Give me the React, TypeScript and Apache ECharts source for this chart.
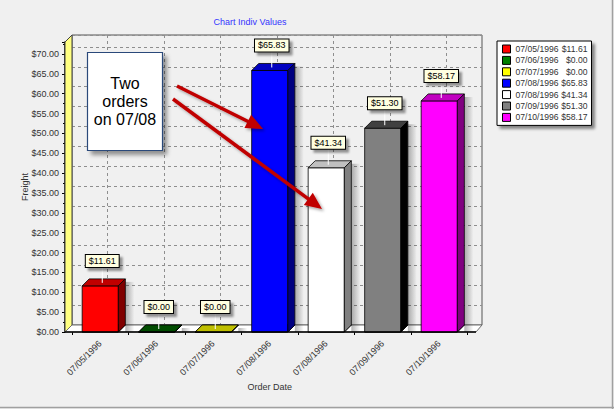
import React, { useEffect, useRef } from 'react';
import * as echarts from 'echarts';

const categories = ['07/05/1996', '07/06/1996', '07/07/1996', '07/08/1996', '07/08/1996', '07/09/1996', '07/10/1996'];
const freight = [11.61, 0, 0, 65.83, 41.34, 51.3, 58.17];
const frontColors = ['#ff0000', '#008000', '#ffff00', '#0000ff', '#ffffff', '#808080', '#ff00ff'];
const topColors = ['#c00000', '#004c00', '#bfbf00', '#0000c0', '#c0c0c0', '#404040', '#c000c0'];
const sideColors = ['#800000', '#003000', '#808000', '#000080', '#808080', '#000000', '#800080'];
const yMax = 73;
const yInterval = 5;
const titleText = 'Chart Indiv Values';
const noteText = 'Two\norders\non 07/08';

const FONT = '"Liberation Sans", Arial, sans-serif';
const D = 7;

const money = (v: number) => '$' + v.toFixed(2);

function arrow(x1: number, y1: number, x2: number, y2: number) {
  const a = Math.atan2(y2 - y1, x2 - x1);
  const L = 17, W = 7.5;
  const c = Math.cos(a), s = Math.sin(a);
  const bx = x2 - L * c, by = y2 - L * s;
  const shadow = { shadowColor: 'rgba(0,0,0,0.35)', shadowBlur: 3, shadowOffsetX: 2, shadowOffsetY: 2 };
  return [
    { type: 'line', z: 120, shape: { x1, y1, x2: bx + 2 * c, y2: by + 2 * s }, style: { stroke: '#c00000', lineWidth: 3.5, ...shadow } },
    { type: 'polygon', z: 121, shape: { points: [[x2, y2], [bx + W * s, by - W * c], [bx - W * s, by + W * c]] }, style: { fill: '#c00000', ...shadow } },
  ];
}

export default function App() {
  const ref = useRef<HTMLDivElement>(null);
  useEffect(() => {
    const chart = echarts.init(ref.current!, null, { renderer: 'svg' });
    const legendNames = categories.map((c, i) => `${c} ${money(freight[i])}`);

    const series = freight.map((v, i) => ({
      type: 'custom',
      name: legendNames[i],
      coordinateSystem: 'cartesian2d',
      xAxisIndex: 0,
      yAxisIndex: 0,
      itemStyle: { color: frontColors[i], borderColor: '#000', borderWidth: 1 },
      data: [[i, v]],
      renderItem: (params: any, api: any) => {
        const idx = api.value(0);
        const val = api.value(1);
        const p = api.coord([idx, val]);
        const b = api.coord([idx, 0]);
        const w = api.size([1, 0])[0] * 0.64;
        const x0 = p[0] - w / 2, x1 = p[0] + w / 2, yT = p[1], yB = b[1];
        const s = params.seriesIndex;
        const stroke = { stroke: '#000', lineWidth: 0.8 };
        const children: any[] = [
          {
            type: 'rect',
            shape: { x: x1 + D, y: yT - D + 3, width: 9, height: yB - yT + D - 3 },
            style: {
              fill: new echarts.graphic.LinearGradient(0, 0, 1, 0, [
                { offset: 0, color: 'rgba(0,0,0,0.30)' },
                { offset: 1, color: 'rgba(0,0,0,0)' },
              ]),
            },
          },
          {
            type: 'polygon',
            shape: { points: [[x0, yB], [x1, yB], [x1 + D, yB - D], [x0 + D, yB - D]] },
            style: { fill: topColors[s], ...stroke },
          },
          {
            type: 'rect',
            shape: { x: x0, y: yT, width: w, height: yB - yT },
            style: { fill: frontColors[s], ...stroke },
          },
          {
            type: 'polygon',
            shape: { points: [[x0, yT], [x1, yT], [x1 + D, yT - D], [x0 + D, yT - D]] },
            style: { fill: topColors[s], ...stroke },
          },
          {
            type: 'polygon',
            shape: { points: [[x1, yT], [x1 + D, yT - D], [x1 + D, yB - D], [x1, yB]] },
            style: { fill: sideColors[s], ...stroke },
          },
          {
            type: 'line',
            shape: { x1: p[0] + 2, y1: yT - D - 12, x2: p[0] + 2, y2: yT - 3 },
            style: { stroke: '#ffffff', lineWidth: 1 },
          },
          {
            type: 'text',
            x: p[0] + 2,
            y: yT - D - 12,
            style: {
              text: money(val),
              align: 'center',
              verticalAlign: 'bottom',
              fontSize: 9,
              fontFamily: FONT,
              fill: '#000',
              backgroundColor: '#ffffe1',
              borderColor: '#000',
              borderWidth: 1,
              padding: [1, 3, 1, 3],
              lineHeight: 10,
              shadowColor: 'rgba(0,0,0,0.4)',
              shadowBlur: 2,
              shadowOffsetX: 3,
              shadowOffsetY: 3,
            },
          },
        ];
        return { type: 'group', children };
      },
    }));

    const dashed = { show: true, lineStyle: { color: '#8e8e8e', type: [3, 3] as any, width: 1 } };

    const option: any = {
      animation: false,
      backgroundColor: '#f0f0f0',
      textStyle: { fontFamily: FONT },
      title: {
        text: titleText,
        left: 250,
        top: 17,
        textAlign: 'center',
        padding: 0,
        textStyle: { fontSize: 9, fontWeight: 'normal', color: '#3434ff', fontFamily: FONT },
      },
      legend: {
        orient: 'vertical',
        left: 497,
        top: 41,
        padding: [3, 4, 3, 5],
        itemGap: 1.4,
        itemWidth: 8,
        itemHeight: 8,
        icon: 'rect',
        selectedMode: false,
        backgroundColor: '#ffffff',
        borderColor: '#000',
        borderWidth: 1,
        shadowColor: 'rgba(0,0,0,0.45)',
        shadowBlur: 3,
        shadowOffsetX: 3,
        shadowOffsetY: 3,
        itemStyle: { borderColor: '#000', borderWidth: 1 },
        data: legendNames,
        formatter: (n: string) => {
          const [d, v] = n.split(' ');
          return `{d|${d}}{v|${v}}`;
        },
        textStyle: {
          fontSize: 8.6,
          color: '#333',
          lineHeight: 10,
          fontFamily: FONT,
          rich: {
            d: { width: 45, fontSize: 8.6, color: '#333', fontFamily: FONT, lineHeight: 10 },
            v: { width: 27, align: 'right', fontSize: 8.6, color: '#333', fontFamily: FONT, lineHeight: 10 },
          },
        },
      },
      grid: [
        { left: 72, right: 146.5, top: 42, bottom: 77 },
        { left: 72, right: 132, top: 35, bottom: 84, show: true, borderColor: '#555', borderWidth: 1, backgroundColor: 'transparent' },
        { left: 107.25, width: 339, top: 35, bottom: 84 },
      ],
      xAxis: [
        {
          gridIndex: 0,
          type: 'category',
          data: categories,
          boundaryGap: true,
          name: 'Order Date',
          nameLocation: 'middle',
          nameGap: 50,
          nameMoveOverlap: false,
          nameTextStyle: { fontSize: 9, color: '#333', fontFamily: FONT },
          axisLine: { show: false },
          axisTick: { show: true, length: 3, lineStyle: { color: '#000' } },
          axisLabel: { rotate: 45, interval: 0, fontSize: 9, color: '#333', margin: 10, fontFamily: FONT },
          splitLine: { show: false },
        },
        { gridIndex: 1, type: 'value', show: false, min: 0, max: 1 },
        {
          gridIndex: 2,
          type: 'category',
          data: categories,
          boundaryGap: false,
          axisLine: { show: false },
          axisTick: { show: false },
          axisLabel: { show: false },
          splitLine: { ...dashed, interval: 0 },
        },
      ],
      yAxis: [
        {
          gridIndex: 0,
          type: 'value',
          min: 0,
          max: yMax,
          interval: yInterval,
          offset: 7,
          name: 'Freight',
          nameLocation: 'middle',
          nameGap: 36,
          nameMoveOverlap: false,
          nameTextStyle: { fontSize: 9, color: '#333', fontFamily: FONT },
          axisLine: { show: true, lineStyle: { color: '#000', width: 1.5 } },
          axisTick: { show: true, length: 3, lineStyle: { color: '#000' } },
          minorTick: { show: true, splitNumber: 2, length: 2, lineStyle: { color: '#000' } },
          axisLabel: {
            fontSize: 9,
            color: '#333',
            margin: 6,
            fontFamily: FONT,
            showMaxLabel: false,
            formatter: (v: number) => (v % yInterval === 0 ? money(v) : ''),
          },
          splitLine: { show: false },
        },
        {
          gridIndex: 1,
          type: 'value',
          min: 0,
          max: yMax,
          interval: yInterval,
          axisLine: { show: false },
          axisTick: { show: false },
          axisLabel: { show: false },
          splitLine: dashed,
        },
        { gridIndex: 2, type: 'value', show: false, min: 0, max: yMax },
      ],
      graphic: [
        {
          type: 'polygon',
          z: 1,
          shape: { points: [[65, 332], [65, 42], [72, 35], [72, 325]] },
          style: { fill: '#ffff80', stroke: '#404040', lineWidth: 1 },
        },
        {
          type: 'polygon',
          z: 1,
          shape: { points: [[65, 332], [476, 332], [482, 325], [72, 325]] },
          style: { fill: '#ffffff', stroke: '#707070', lineWidth: 1 },
        },
        { type: 'line', z: 3, shape: { x1: 65, y1: 332, x2: 476, y2: 332 }, style: { stroke: '#000', lineWidth: 1.5 } },
        {
          type: 'rect',
          z: 110,
          shape: { x: 87.5, y: 52.5, width: 75, height: 98 },
          style: {
            fill: '#ffffff',
            stroke: '#2a4a7a',
            lineWidth: 1.2,
            shadowColor: 'rgba(0,0,0,0.4)',
            shadowBlur: 4,
            shadowOffsetX: 4,
            shadowOffsetY: 4,
          },
        },
        {
          type: 'text',
          z: 111,
          x: 125,
          y: 101,
          style: {
            text: noteText,
            align: 'center',
            verticalAlign: 'middle',
            fontSize: 16,
            lineHeight: 18,
            fontFamily: FONT,
            fill: '#000',
          },
        },
        ...arrow(177, 86, 263, 129),
        ...arrow(173, 99, 322, 209),
        { type: 'line', z: 130, shape: { x1: 612.5, y1: 0, x2: 612.5, y2: 409 }, style: { stroke: '#a0a0a0', lineWidth: 1.5 } },
        { type: 'line', z: 130, shape: { x1: 0, y1: 407.5, x2: 614, y2: 407.5 }, style: { stroke: '#a0a0a0', lineWidth: 1.5 } },
      ],
      series,
    };
    chart.setOption(option);
    return () => chart.dispose();
  }, []);
  return <div ref={ref} style={{ position: 'absolute', left: 0, top: 0, width: 614, height: 409 }} />;
}
